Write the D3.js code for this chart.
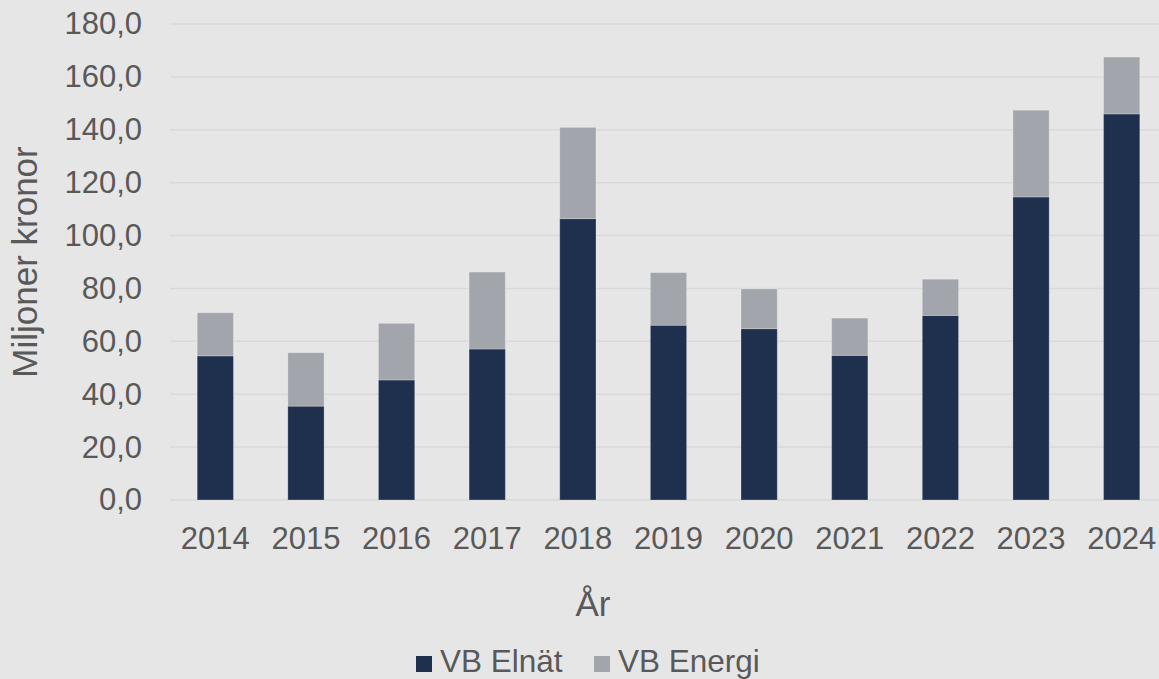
<!DOCTYPE html>
<html>
<head>
<meta charset="utf-8">
<script src="https://cdn.jsdelivr.net/npm/d3@7"></script>
<style>
  html, body { margin: 0; padding: 0; background: #e6e6e6; }
  svg { display: block; font-family: "Liberation Sans", Arial, sans-serif; }
</style>
</head>
<body>
<div id="chart"></div>
<script>
// Data (miljoner kronor)
var years = ["2014", "2015", "2016", "2017", "2018", "2019", "2020", "2021", "2022", "2023", "2024"];
var vbElnat = [54.5, 35.5, 45.4, 57.1, 106.4, 66.1, 64.8, 54.7, 69.8, 114.6, 146.0];
var vbEnergi = [16.3, 20.2, 21.4, 29.1, 34.5, 19.9, 15.0, 14.1, 13.7, 32.8, 21.5];
var seriesNames = ["VB Elnät", "VB Energi"];
var seriesColors = ["#1f304e", "#a2a5ac"];
var yTicks = [0, 20, 40, 60, 80, 100, 120, 140, 160, 180];

function init() {
    var w = 1159, h = 679;
    var margin = { left: 170, top: 24, right: -8, bottom: 179 };

    var svg = d3.select("#chart")
                .append("svg")
                .attr("width", w)
                .attr("height", h);

    svg.append("rect")
        .attr("width", w).attr("height", h)
        .attr("fill", "#e6e6e6");

    // Swedish number format: decimal comma
    var sv = d3.formatLocale({ decimal: ",", thousands: " ", grouping: [3], currency: ["", " kr"] });
    var fmt = sv.format(".1f");

    var x = d3.scaleBand()
                .domain(years)
                .range([margin.left, w - margin.right])
                .paddingInner(0.6)
                .paddingOuter(0.3);

    var y = d3.scaleLinear()
                .domain([0, 180])
                .range([h - margin.bottom, margin.top]);

    // gridlines
    svg.append("g")
        .selectAll("line")
        .data(yTicks)
        .enter()
        .append("line")
        .attr("x1", margin.left)
        .attr("x2", w - margin.right)
        .attr("y1", function(d) { return y(d); })
        .attr("y2", function(d) { return y(d); })
        .attr("stroke", "#d9d9d9")
        .attr("stroke-width", 1.5);

    // y tick labels
    var yAxis = d3.axisLeft(y)
                .tickValues(yTicks)
                .tickFormat(fmt)
                .tickSize(0)
                .tickPadding(28);

    var gy = svg.append("g")
        .attr("transform", "translate(" + margin.left + ",0)")
        .call(yAxis);
    gy.select(".domain").remove();
    gy.selectAll("text")
        .attr("fill", "#595959")
        .style("font-size", "31px")
        .style("font-family", "Liberation Sans, Arial, sans-serif");

    // stacked bars
    var rows = years.map(function(yr, i) {
        return { year: yr, elnat: vbElnat[i], energi: vbEnergi[i] };
    });
    var stack = d3.stack().keys(["elnat", "energi"]);
    var layers = stack(rows);

    svg.append("g")
        .selectAll("g")
        .data(layers)
        .enter()
        .append("g")
        .attr("fill", function(d, i) { return seriesColors[i]; })
        .selectAll("rect")
        .data(function(d) { return d; })
        .enter()
        .append("rect")
        .attr("x", function(d) { return x(d.data.year); })
        .attr("width", x.bandwidth())
        .attr("y", function(d) { return y(d[1]); })
        .attr("height", function(d) { return y(d[0]) - y(d[1]); })
        .attr("stroke", "#ffffff")
        .attr("stroke-opacity", 0.25)
        .attr("stroke-width", 1);

    // x tick labels
    var xAxis = d3.axisBottom(x)
                .tickSize(0)
                .tickPadding(27);

    var gx = svg.append("g")
        .attr("transform", "translate(0," + y(0) + ")")
        .call(xAxis);
    gx.select(".domain").remove();
    gx.selectAll("text")
        .attr("fill", "#595959")
        .style("font-size", "31px")
        .style("font-family", "Liberation Sans, Arial, sans-serif");

    // axis titles
    svg.append("text")
        .attr("transform", "translate(37," + ((y(0) + y(180)) / 2) + ") rotate(-90)")
        .attr("text-anchor", "middle")
        .attr("fill", "#595959")
        .style("font-size", "35px")
        .text("Miljoner kronor");

    svg.append("text")
        .attr("x", 593)
        .attr("y", 616)
        .attr("text-anchor", "middle")
        .attr("fill", "#595959")
        .style("font-size", "35px")
        .text("År");

    // legend
    var legendX = [416, 594];
    var legend = svg.append("g");
    seriesNames.forEach(function(name, i) {
        legend.append("rect")
            .attr("x", legendX[i])
            .attr("y", 656)
            .attr("width", 16)
            .attr("height", 16)
            .attr("fill", seriesColors[i]);
        legend.append("text")
            .attr("x", legendX[i] + 24)
            .attr("y", 672)
            .attr("fill", "#595959")
            .style("font-size", "31.5px")
            .text(name);
    });
}

window.onload = init;
</script>
</body>
</html>
